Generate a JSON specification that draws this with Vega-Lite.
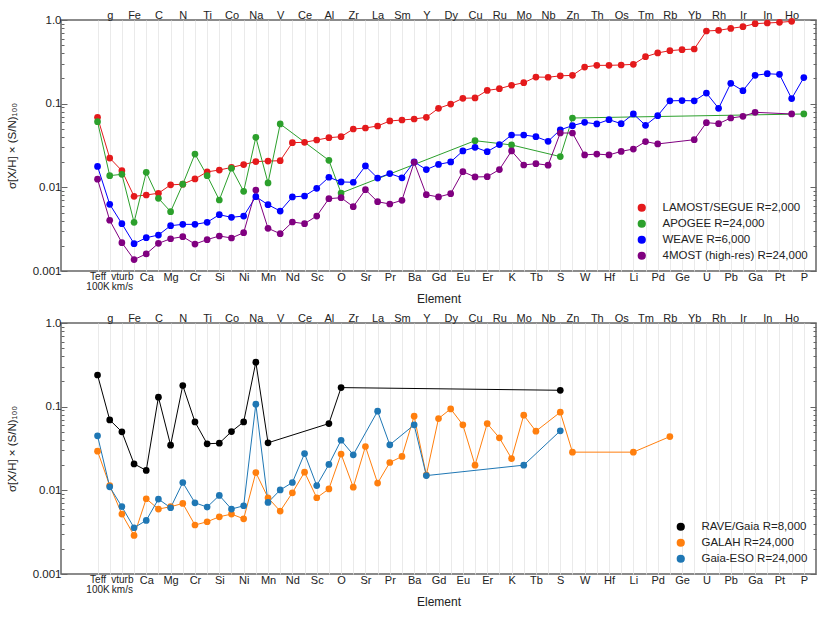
{
  "$schema": "https://vega.github.io/schema/vega-lite/v6.json",
  "padding": {"left": 5, "top": 8, "right": 5, "bottom": 5},
  "spacing": 6,
  "config": {
    "font": "Liberation Sans",
    "view": {"stroke": "#666", "strokeWidth": 1.5},
    "axis": {"labelFont": "Liberation Sans", "titleFont": "Liberation Sans", "labelColor": "#222", "titleColor": "#222", "titleFontWeight": "normal", "domain": false},
    "legend": {"labelFont": "Liberation Sans", "labelFontSize": 11.5, "labelColor": "#222", "symbolSize": 45, "symbolType": "circle", "rowPadding": 2, "labelOffset": 15, "padding": 0, "offset": 8, "orient": "bottom-right", "title": null}
  },
  "datasets": {
    "elements": [
      {"element": "Teff", "idx": 0}, {"element": "g", "idx": 1}, {"element": "vturb", "idx": 2}, {"element": "Fe", "idx": 3},
      {"element": "Ca", "idx": 4}, {"element": "C", "idx": 5}, {"element": "Mg", "idx": 6}, {"element": "N", "idx": 7},
      {"element": "Cr", "idx": 8}, {"element": "Ti", "idx": 9}, {"element": "Si", "idx": 10}, {"element": "Co", "idx": 11},
      {"element": "Ni", "idx": 12}, {"element": "Na", "idx": 13}, {"element": "Mn", "idx": 14}, {"element": "V", "idx": 15},
      {"element": "Nd", "idx": 16}, {"element": "Ce", "idx": 17}, {"element": "Sc", "idx": 18}, {"element": "Al", "idx": 19},
      {"element": "O", "idx": 20}, {"element": "Zr", "idx": 21}, {"element": "Sr", "idx": 22}, {"element": "La", "idx": 23},
      {"element": "Pr", "idx": 24}, {"element": "Sm", "idx": 25}, {"element": "Ba", "idx": 26}, {"element": "Y", "idx": 27},
      {"element": "Gd", "idx": 28}, {"element": "Dy", "idx": 29}, {"element": "Eu", "idx": 30}, {"element": "Cu", "idx": 31},
      {"element": "Er", "idx": 32}, {"element": "Ru", "idx": 33}, {"element": "K", "idx": 34}, {"element": "Mo", "idx": 35},
      {"element": "Tb", "idx": 36}, {"element": "Nb", "idx": 37}, {"element": "S", "idx": 38}, {"element": "Zn", "idx": 39},
      {"element": "W", "idx": 40}, {"element": "Th", "idx": 41}, {"element": "Hf", "idx": 42}, {"element": "Os", "idx": 43},
      {"element": "Li", "idx": 44}, {"element": "Tm", "idx": 45}, {"element": "Pd", "idx": 46}, {"element": "Rb", "idx": 47},
      {"element": "Ge", "idx": 48}, {"element": "Yb", "idx": 49}, {"element": "U", "idx": 50}, {"element": "Rh", "idx": 51},
      {"element": "Pb", "idx": 52}, {"element": "Ir", "idx": 53}, {"element": "Ga", "idx": 54}, {"element": "In", "idx": 55},
      {"element": "Pt", "idx": 56}, {"element": "Ho", "idx": 57}, {"element": "P", "idx": 58}
    ],
    "upper": [
      {"survey": "LAMOST/SEGUE R=2,000", "element": "Teff", "sigma": 0.0687},
      {"survey": "LAMOST/SEGUE R=2,000", "element": "g", "sigma": 0.0224},
      {"survey": "LAMOST/SEGUE R=2,000", "element": "vturb", "sigma": 0.0158},
      {"survey": "LAMOST/SEGUE R=2,000", "element": "Fe", "sigma": 0.0078},
      {"survey": "LAMOST/SEGUE R=2,000", "element": "Ca", "sigma": 0.0081},
      {"survey": "LAMOST/SEGUE R=2,000", "element": "C", "sigma": 0.0085},
      {"survey": "LAMOST/SEGUE R=2,000", "element": "Mg", "sigma": 0.0107},
      {"survey": "LAMOST/SEGUE R=2,000", "element": "N", "sigma": 0.0109},
      {"survey": "LAMOST/SEGUE R=2,000", "element": "Cr", "sigma": 0.0126},
      {"survey": "LAMOST/SEGUE R=2,000", "element": "Ti", "sigma": 0.0153},
      {"survey": "LAMOST/SEGUE R=2,000", "element": "Si", "sigma": 0.0161},
      {"survey": "LAMOST/SEGUE R=2,000", "element": "Co", "sigma": 0.0173},
      {"survey": "LAMOST/SEGUE R=2,000", "element": "Ni", "sigma": 0.0187},
      {"survey": "LAMOST/SEGUE R=2,000", "element": "Na", "sigma": 0.0203},
      {"survey": "LAMOST/SEGUE R=2,000", "element": "Mn", "sigma": 0.0206},
      {"survey": "LAMOST/SEGUE R=2,000", "element": "V", "sigma": 0.0208},
      {"survey": "LAMOST/SEGUE R=2,000", "element": "Nd", "sigma": 0.0342},
      {"survey": "LAMOST/SEGUE R=2,000", "element": "Ce", "sigma": 0.0345},
      {"survey": "LAMOST/SEGUE R=2,000", "element": "Sc", "sigma": 0.0368},
      {"survey": "LAMOST/SEGUE R=2,000", "element": "Al", "sigma": 0.0392},
      {"survey": "LAMOST/SEGUE R=2,000", "element": "O", "sigma": 0.0403},
      {"survey": "LAMOST/SEGUE R=2,000", "element": "Zr", "sigma": 0.0498},
      {"survey": "LAMOST/SEGUE R=2,000", "element": "Sr", "sigma": 0.0512},
      {"survey": "LAMOST/SEGUE R=2,000", "element": "La", "sigma": 0.0541},
      {"survey": "LAMOST/SEGUE R=2,000", "element": "Pr", "sigma": 0.0621},
      {"survey": "LAMOST/SEGUE R=2,000", "element": "Sm", "sigma": 0.0638},
      {"survey": "LAMOST/SEGUE R=2,000", "element": "Ba", "sigma": 0.0656},
      {"survey": "LAMOST/SEGUE R=2,000", "element": "Y", "sigma": 0.0687},
      {"survey": "LAMOST/SEGUE R=2,000", "element": "Gd", "sigma": 0.088},
      {"survey": "LAMOST/SEGUE R=2,000", "element": "Dy", "sigma": 0.099},
      {"survey": "LAMOST/SEGUE R=2,000", "element": "Eu", "sigma": 0.116},
      {"survey": "LAMOST/SEGUE R=2,000", "element": "Cu", "sigma": 0.117},
      {"survey": "LAMOST/SEGUE R=2,000", "element": "Er", "sigma": 0.144},
      {"survey": "LAMOST/SEGUE R=2,000", "element": "Ru", "sigma": 0.151},
      {"survey": "LAMOST/SEGUE R=2,000", "element": "K", "sigma": 0.166},
      {"survey": "LAMOST/SEGUE R=2,000", "element": "Mo", "sigma": 0.178},
      {"survey": "LAMOST/SEGUE R=2,000", "element": "Tb", "sigma": 0.208},
      {"survey": "LAMOST/SEGUE R=2,000", "element": "Nb", "sigma": 0.207},
      {"survey": "LAMOST/SEGUE R=2,000", "element": "S", "sigma": 0.215},
      {"survey": "LAMOST/SEGUE R=2,000", "element": "Zn", "sigma": 0.218},
      {"survey": "LAMOST/SEGUE R=2,000", "element": "W", "sigma": 0.274},
      {"survey": "LAMOST/SEGUE R=2,000", "element": "Th", "sigma": 0.287},
      {"survey": "LAMOST/SEGUE R=2,000", "element": "Hf", "sigma": 0.287},
      {"survey": "LAMOST/SEGUE R=2,000", "element": "Os", "sigma": 0.29},
      {"survey": "LAMOST/SEGUE R=2,000", "element": "Li", "sigma": 0.295},
      {"survey": "LAMOST/SEGUE R=2,000", "element": "Tm", "sigma": 0.364},
      {"survey": "LAMOST/SEGUE R=2,000", "element": "Pd", "sigma": 0.404},
      {"survey": "LAMOST/SEGUE R=2,000", "element": "Rb", "sigma": 0.43},
      {"survey": "LAMOST/SEGUE R=2,000", "element": "Ge", "sigma": 0.442},
      {"survey": "LAMOST/SEGUE R=2,000", "element": "Yb", "sigma": 0.45},
      {"survey": "LAMOST/SEGUE R=2,000", "element": "U", "sigma": 0.739},
      {"survey": "LAMOST/SEGUE R=2,000", "element": "Rh", "sigma": 0.752},
      {"survey": "LAMOST/SEGUE R=2,000", "element": "Pb", "sigma": 0.794},
      {"survey": "LAMOST/SEGUE R=2,000", "element": "Ir", "sigma": 0.832},
      {"survey": "LAMOST/SEGUE R=2,000", "element": "Ga", "sigma": 0.904},
      {"survey": "LAMOST/SEGUE R=2,000", "element": "In", "sigma": 0.921},
      {"survey": "LAMOST/SEGUE R=2,000", "element": "Pt", "sigma": 0.937},
      {"survey": "LAMOST/SEGUE R=2,000", "element": "Ho", "sigma": 0.964},
      {"survey": "APOGEE R=24,000", "element": "Teff", "sigma": 0.0609},
      {"survey": "APOGEE R=24,000", "element": "g", "sigma": 0.0138},
      {"survey": "APOGEE R=24,000", "element": "vturb", "sigma": 0.0143},
      {"survey": "APOGEE R=24,000", "element": "Fe", "sigma": 0.00382},
      {"survey": "APOGEE R=24,000", "element": "Ca", "sigma": 0.0151},
      {"survey": "APOGEE R=24,000", "element": "C", "sigma": 0.0074},
      {"survey": "APOGEE R=24,000", "element": "Mg", "sigma": 0.00512},
      {"survey": "APOGEE R=24,000", "element": "N", "sigma": 0.0109},
      {"survey": "APOGEE R=24,000", "element": "Cr", "sigma": 0.025},
      {"survey": "APOGEE R=24,000", "element": "Ti", "sigma": 0.0138},
      {"survey": "APOGEE R=24,000", "element": "Si", "sigma": 0.00706},
      {"survey": "APOGEE R=24,000", "element": "Co", "sigma": 0.0169},
      {"survey": "APOGEE R=24,000", "element": "Ni", "sigma": 0.00896},
      {"survey": "APOGEE R=24,000", "element": "Na", "sigma": 0.0396},
      {"survey": "APOGEE R=24,000", "element": "Mn", "sigma": 0.0113},
      {"survey": "APOGEE R=24,000", "element": "V", "sigma": 0.0572},
      {"survey": "APOGEE R=24,000", "element": "Al", "sigma": 0.021},
      {"survey": "APOGEE R=24,000", "element": "O", "sigma": 0.00855},
      {"survey": "APOGEE R=24,000", "element": "Cu", "sigma": 0.0361},
      {"survey": "APOGEE R=24,000", "element": "K", "sigma": 0.0321},
      {"survey": "APOGEE R=24,000", "element": "S", "sigma": 0.0233},
      {"survey": "APOGEE R=24,000", "element": "Zn", "sigma": 0.0674},
      {"survey": "APOGEE R=24,000", "element": "P", "sigma": 0.0753},
      {"survey": "WEAVE R=6,000", "element": "Teff", "sigma": 0.0178},
      {"survey": "WEAVE R=6,000", "element": "g", "sigma": 0.00627},
      {"survey": "WEAVE R=6,000", "element": "vturb", "sigma": 0.00368},
      {"survey": "WEAVE R=6,000", "element": "Fe", "sigma": 0.00212},
      {"survey": "WEAVE R=6,000", "element": "Ca", "sigma": 0.0025},
      {"survey": "WEAVE R=6,000", "element": "C", "sigma": 0.00269},
      {"survey": "WEAVE R=6,000", "element": "Mg", "sigma": 0.00348},
      {"survey": "WEAVE R=6,000", "element": "N", "sigma": 0.00361},
      {"survey": "WEAVE R=6,000", "element": "Cr", "sigma": 0.00361},
      {"survey": "WEAVE R=6,000", "element": "Ti", "sigma": 0.00382},
      {"survey": "WEAVE R=6,000", "element": "Si", "sigma": 0.00471},
      {"survey": "WEAVE R=6,000", "element": "Co", "sigma": 0.00438},
      {"survey": "WEAVE R=6,000", "element": "Ni", "sigma": 0.00454},
      {"survey": "WEAVE R=6,000", "element": "Na", "sigma": 0.00773},
      {"survey": "WEAVE R=6,000", "element": "Mn", "sigma": 0.0062},
      {"survey": "WEAVE R=6,000", "element": "V", "sigma": 0.00521},
      {"survey": "WEAVE R=6,000", "element": "Nd", "sigma": 0.00767},
      {"survey": "WEAVE R=6,000", "element": "Ce", "sigma": 0.00788},
      {"survey": "WEAVE R=6,000", "element": "Sc", "sigma": 0.00973},
      {"survey": "WEAVE R=6,000", "element": "Al", "sigma": 0.0132},
      {"survey": "WEAVE R=6,000", "element": "O", "sigma": 0.0116},
      {"survey": "WEAVE R=6,000", "element": "Zr", "sigma": 0.0115},
      {"survey": "WEAVE R=6,000", "element": "Sr", "sigma": 0.018},
      {"survey": "WEAVE R=6,000", "element": "La", "sigma": 0.0129},
      {"survey": "WEAVE R=6,000", "element": "Pr", "sigma": 0.0146},
      {"survey": "WEAVE R=6,000", "element": "Sm", "sigma": 0.013},
      {"survey": "WEAVE R=6,000", "element": "Ba", "sigma": 0.0201},
      {"survey": "WEAVE R=6,000", "element": "Y", "sigma": 0.0163},
      {"survey": "WEAVE R=6,000", "element": "Gd", "sigma": 0.0188},
      {"survey": "WEAVE R=6,000", "element": "Dy", "sigma": 0.0201},
      {"survey": "WEAVE R=6,000", "element": "Eu", "sigma": 0.0272},
      {"survey": "WEAVE R=6,000", "element": "Cu", "sigma": 0.0301},
      {"survey": "WEAVE R=6,000", "element": "Er", "sigma": 0.0267},
      {"survey": "WEAVE R=6,000", "element": "Ru", "sigma": 0.0324},
      {"survey": "WEAVE R=6,000", "element": "K", "sigma": 0.0422},
      {"survey": "WEAVE R=6,000", "element": "Mo", "sigma": 0.0422},
      {"survey": "WEAVE R=6,000", "element": "Tb", "sigma": 0.0403},
      {"survey": "WEAVE R=6,000", "element": "Nb", "sigma": 0.0355},
      {"survey": "WEAVE R=6,000", "element": "S", "sigma": 0.0487},
      {"survey": "WEAVE R=6,000", "element": "Zn", "sigma": 0.0546},
      {"survey": "WEAVE R=6,000", "element": "W", "sigma": 0.0598},
      {"survey": "WEAVE R=6,000", "element": "Th", "sigma": 0.0572},
      {"survey": "WEAVE R=6,000", "element": "Hf", "sigma": 0.0644},
      {"survey": "WEAVE R=6,000", "element": "Os", "sigma": 0.0577},
      {"survey": "WEAVE R=6,000", "element": "Li", "sigma": 0.0753},
      {"survey": "WEAVE R=6,000", "element": "Tm", "sigma": 0.0551},
      {"survey": "WEAVE R=6,000", "element": "Pd", "sigma": 0.0719},
      {"survey": "WEAVE R=6,000", "element": "Rb", "sigma": 0.108},
      {"survey": "WEAVE R=6,000", "element": "Ge", "sigma": 0.109},
      {"survey": "WEAVE R=6,000", "element": "Yb", "sigma": 0.108},
      {"survey": "WEAVE R=6,000", "element": "U", "sigma": 0.134},
      {"survey": "WEAVE R=6,000", "element": "Rh", "sigma": 0.088},
      {"survey": "WEAVE R=6,000", "element": "Pb", "sigma": 0.175},
      {"survey": "WEAVE R=6,000", "element": "Ir", "sigma": 0.143},
      {"survey": "WEAVE R=6,000", "element": "Ga", "sigma": 0.218},
      {"survey": "WEAVE R=6,000", "element": "In", "sigma": 0.228},
      {"survey": "WEAVE R=6,000", "element": "Pt", "sigma": 0.224},
      {"survey": "WEAVE R=6,000", "element": "Ho", "sigma": 0.115},
      {"survey": "WEAVE R=6,000", "element": "P", "sigma": 0.205},
      {"survey": "4MOST (high-res) R=24,000", "element": "Teff", "sigma": 0.0125},
      {"survey": "4MOST (high-res) R=24,000", "element": "g", "sigma": 0.00404},
      {"survey": "4MOST (high-res) R=24,000", "element": "vturb", "sigma": 0.00218},
      {"survey": "4MOST (high-res) R=24,000", "element": "Fe", "sigma": 0.00137},
      {"survey": "4MOST (high-res) R=24,000", "element": "Ca", "sigma": 0.0016},
      {"survey": "4MOST (high-res) R=24,000", "element": "C", "sigma": 0.00214},
      {"survey": "4MOST (high-res) R=24,000", "element": "Mg", "sigma": 0.00243},
      {"survey": "4MOST (high-res) R=24,000", "element": "N", "sigma": 0.00257},
      {"survey": "4MOST (high-res) R=24,000", "element": "Cr", "sigma": 0.0021},
      {"survey": "4MOST (high-res) R=24,000", "element": "Ti", "sigma": 0.00237},
      {"survey": "4MOST (high-res) R=24,000", "element": "Si", "sigma": 0.00262},
      {"survey": "4MOST (high-res) R=24,000", "element": "Co", "sigma": 0.00248},
      {"survey": "4MOST (high-res) R=24,000", "element": "Ni", "sigma": 0.00287},
      {"survey": "4MOST (high-res) R=24,000", "element": "Na", "sigma": 0.00929},
      {"survey": "4MOST (high-res) R=24,000", "element": "Mn", "sigma": 0.00324},
      {"survey": "4MOST (high-res) R=24,000", "element": "V", "sigma": 0.00279},
      {"survey": "4MOST (high-res) R=24,000", "element": "Nd", "sigma": 0.00385},
      {"survey": "4MOST (high-res) R=24,000", "element": "Ce", "sigma": 0.00368},
      {"survey": "4MOST (high-res) R=24,000", "element": "Sc", "sigma": 0.00454},
      {"survey": "4MOST (high-res) R=24,000", "element": "Al", "sigma": 0.00732},
      {"survey": "4MOST (high-res) R=24,000", "element": "O", "sigma": 0.00752},
      {"survey": "4MOST (high-res) R=24,000", "element": "Zr", "sigma": 0.00587},
      {"survey": "4MOST (high-res) R=24,000", "element": "Sr", "sigma": 0.00937},
      {"survey": "4MOST (high-res) R=24,000", "element": "La", "sigma": 0.00673},
      {"survey": "4MOST (high-res) R=24,000", "element": "Pr", "sigma": 0.00632},
      {"survey": "4MOST (high-res) R=24,000", "element": "Sm", "sigma": 0.007},
      {"survey": "4MOST (high-res) R=24,000", "element": "Ba", "sigma": 0.0199},
      {"survey": "4MOST (high-res) R=24,000", "element": "Y", "sigma": 0.00817},
      {"survey": "4MOST (high-res) R=24,000", "element": "Gd", "sigma": 0.00767},
      {"survey": "4MOST (high-res) R=24,000", "element": "Dy", "sigma": 0.00839},
      {"survey": "4MOST (high-res) R=24,000", "element": "Eu", "sigma": 0.0154},
      {"survey": "4MOST (high-res) R=24,000", "element": "Cu", "sigma": 0.0133},
      {"survey": "4MOST (high-res) R=24,000", "element": "Er", "sigma": 0.0134},
      {"survey": "4MOST (high-res) R=24,000", "element": "Ru", "sigma": 0.0163},
      {"survey": "4MOST (high-res) R=24,000", "element": "K", "sigma": 0.0272},
      {"survey": "4MOST (high-res) R=24,000", "element": "Mo", "sigma": 0.0185},
      {"survey": "4MOST (high-res) R=24,000", "element": "Tb", "sigma": 0.0192},
      {"survey": "4MOST (high-res) R=24,000", "element": "Nb", "sigma": 0.0184},
      {"survey": "4MOST (high-res) R=24,000", "element": "S", "sigma": 0.0446},
      {"survey": "4MOST (high-res) R=24,000", "element": "Zn", "sigma": 0.0446},
      {"survey": "4MOST (high-res) R=24,000", "element": "W", "sigma": 0.0244},
      {"survey": "4MOST (high-res) R=24,000", "element": "Th", "sigma": 0.025},
      {"survey": "4MOST (high-res) R=24,000", "element": "Hf", "sigma": 0.0244},
      {"survey": "4MOST (high-res) R=24,000", "element": "Os", "sigma": 0.0269},
      {"survey": "4MOST (high-res) R=24,000", "element": "Li", "sigma": 0.0287},
      {"survey": "4MOST (high-res) R=24,000", "element": "Tm", "sigma": 0.0352},
      {"survey": "4MOST (high-res) R=24,000", "element": "Pd", "sigma": 0.033},
      {"survey": "4MOST (high-res) R=24,000", "element": "Yb", "sigma": 0.0371},
      {"survey": "4MOST (high-res) R=24,000", "element": "U", "sigma": 0.0593},
      {"survey": "4MOST (high-res) R=24,000", "element": "Rh", "sigma": 0.0577},
      {"survey": "4MOST (high-res) R=24,000", "element": "Pb", "sigma": 0.0674},
      {"survey": "4MOST (high-res) R=24,000", "element": "Ir", "sigma": 0.0706},
      {"survey": "4MOST (high-res) R=24,000", "element": "Ga", "sigma": 0.0788},
      {"survey": "4MOST (high-res) R=24,000", "element": "Ho", "sigma": 0.0753}
    ],
    "lower": [
      {"survey": "RAVE/Gaia R=8,000", "element": "Teff", "sigma": 0.239},
      {"survey": "RAVE/Gaia R=8,000", "element": "g", "sigma": 0.0695},
      {"survey": "RAVE/Gaia R=8,000", "element": "vturb", "sigma": 0.05},
      {"survey": "RAVE/Gaia R=8,000", "element": "Fe", "sigma": 0.0207},
      {"survey": "RAVE/Gaia R=8,000", "element": "Ca", "sigma": 0.0173},
      {"survey": "RAVE/Gaia R=8,000", "element": "C", "sigma": 0.13},
      {"survey": "RAVE/Gaia R=8,000", "element": "Mg", "sigma": 0.0347},
      {"survey": "RAVE/Gaia R=8,000", "element": "N", "sigma": 0.179},
      {"survey": "RAVE/Gaia R=8,000", "element": "Cr", "sigma": 0.0658},
      {"survey": "RAVE/Gaia R=8,000", "element": "Ti", "sigma": 0.036},
      {"survey": "RAVE/Gaia R=8,000", "element": "Si", "sigma": 0.0366},
      {"survey": "RAVE/Gaia R=8,000", "element": "Co", "sigma": 0.0504},
      {"survey": "RAVE/Gaia R=8,000", "element": "Ni", "sigma": 0.0658},
      {"survey": "RAVE/Gaia R=8,000", "element": "Na", "sigma": 0.34},
      {"survey": "RAVE/Gaia R=8,000", "element": "Mn", "sigma": 0.037},
      {"survey": "RAVE/Gaia R=8,000", "element": "Al", "sigma": 0.0628},
      {"survey": "RAVE/Gaia R=8,000", "element": "O", "sigma": 0.169},
      {"survey": "RAVE/Gaia R=8,000", "element": "S", "sigma": 0.157},
      {"survey": "GALAH R=24,000", "element": "Teff", "sigma": 0.0294},
      {"survey": "GALAH R=24,000", "element": "g", "sigma": 0.0114},
      {"survey": "GALAH R=24,000", "element": "vturb", "sigma": 0.0052},
      {"survey": "GALAH R=24,000", "element": "Fe", "sigma": 0.00289},
      {"survey": "GALAH R=24,000", "element": "Ca", "sigma": 0.00793},
      {"survey": "GALAH R=24,000", "element": "C", "sigma": 0.00597},
      {"survey": "GALAH R=24,000", "element": "Mg", "sigma": 0.00637},
      {"survey": "GALAH R=24,000", "element": "N", "sigma": 0.00697},
      {"survey": "GALAH R=24,000", "element": "Cr", "sigma": 0.00385},
      {"survey": "GALAH R=24,000", "element": "Ti", "sigma": 0.00421},
      {"survey": "GALAH R=24,000", "element": "Si", "sigma": 0.00483},
      {"survey": "GALAH R=24,000", "element": "Co", "sigma": 0.0052},
      {"survey": "GALAH R=24,000", "element": "Ni", "sigma": 0.00457},
      {"survey": "GALAH R=24,000", "element": "Na", "sigma": 0.0163},
      {"survey": "GALAH R=24,000", "element": "Mn", "sigma": 0.00815},
      {"survey": "GALAH R=24,000", "element": "V", "sigma": 0.00565},
      {"survey": "GALAH R=24,000", "element": "Nd", "sigma": 0.00935},
      {"survey": "GALAH R=24,000", "element": "Ce", "sigma": 0.0165},
      {"survey": "GALAH R=24,000", "element": "Sc", "sigma": 0.00815},
      {"survey": "GALAH R=24,000", "element": "Al", "sigma": 0.0104},
      {"survey": "GALAH R=24,000", "element": "O", "sigma": 0.0271},
      {"survey": "GALAH R=24,000", "element": "Zr", "sigma": 0.0109},
      {"survey": "GALAH R=24,000", "element": "Sr", "sigma": 0.0334},
      {"survey": "GALAH R=24,000", "element": "La", "sigma": 0.0122},
      {"survey": "GALAH R=24,000", "element": "Pr", "sigma": 0.0215},
      {"survey": "GALAH R=24,000", "element": "Sm", "sigma": 0.0254},
      {"survey": "GALAH R=24,000", "element": "Ba", "sigma": 0.0769},
      {"survey": "GALAH R=24,000", "element": "Y", "sigma": 0.0152},
      {"survey": "GALAH R=24,000", "element": "Gd", "sigma": 0.0721},
      {"survey": "GALAH R=24,000", "element": "Dy", "sigma": 0.094},
      {"survey": "GALAH R=24,000", "element": "Eu", "sigma": 0.0606},
      {"survey": "GALAH R=24,000", "element": "Cu", "sigma": 0.02},
      {"survey": "GALAH R=24,000", "element": "Er", "sigma": 0.0628},
      {"survey": "GALAH R=24,000", "element": "Ru", "sigma": 0.0424},
      {"survey": "GALAH R=24,000", "element": "K", "sigma": 0.024},
      {"survey": "GALAH R=24,000", "element": "Mo", "sigma": 0.0791},
      {"survey": "GALAH R=24,000", "element": "Tb", "sigma": 0.0509},
      {"survey": "GALAH R=24,000", "element": "S", "sigma": 0.0859},
      {"survey": "GALAH R=24,000", "element": "Zn", "sigma": 0.0286},
      {"survey": "GALAH R=24,000", "element": "Li", "sigma": 0.0286},
      {"survey": "GALAH R=24,000", "element": "Rb", "sigma": 0.0439},
      {"survey": "Gaia-ESO R=24,000", "element": "Teff", "sigma": 0.0448},
      {"survey": "Gaia-ESO R=24,000", "element": "g", "sigma": 0.011},
      {"survey": "Gaia-ESO R=24,000", "element": "vturb", "sigma": 0.00637},
      {"survey": "Gaia-ESO R=24,000", "element": "Fe", "sigma": 0.00357},
      {"survey": "Gaia-ESO R=24,000", "element": "Ca", "sigma": 0.00437},
      {"survey": "Gaia-ESO R=24,000", "element": "C", "sigma": 0.00786},
      {"survey": "Gaia-ESO R=24,000", "element": "Mg", "sigma": 0.00619},
      {"survey": "Gaia-ESO R=24,000", "element": "N", "sigma": 0.0124},
      {"survey": "Gaia-ESO R=24,000", "element": "Cr", "sigma": 0.0071},
      {"survey": "Gaia-ESO R=24,000", "element": "Ti", "sigma": 0.00631},
      {"survey": "Gaia-ESO R=24,000", "element": "Si", "sigma": 0.00869},
      {"survey": "Gaia-ESO R=24,000", "element": "Co", "sigma": 0.00597},
      {"survey": "Gaia-ESO R=24,000", "element": "Ni", "sigma": 0.00654},
      {"survey": "Gaia-ESO R=24,000", "element": "Na", "sigma": 0.107},
      {"survey": "Gaia-ESO R=24,000", "element": "Mn", "sigma": 0.00716},
      {"survey": "Gaia-ESO R=24,000", "element": "V", "sigma": 0.0101},
      {"survey": "Gaia-ESO R=24,000", "element": "Nd", "sigma": 0.0124},
      {"survey": "Gaia-ESO R=24,000", "element": "Ce", "sigma": 0.0275},
      {"survey": "Gaia-ESO R=24,000", "element": "Sc", "sigma": 0.0114},
      {"survey": "Gaia-ESO R=24,000", "element": "Al", "sigma": 0.0204},
      {"survey": "Gaia-ESO R=24,000", "element": "O", "sigma": 0.0397},
      {"survey": "Gaia-ESO R=24,000", "element": "Zr", "sigma": 0.0266},
      {"survey": "Gaia-ESO R=24,000", "element": "La", "sigma": 0.0883},
      {"survey": "Gaia-ESO R=24,000", "element": "Pr", "sigma": 0.035},
      {"survey": "Gaia-ESO R=24,000", "element": "Ba", "sigma": 0.0606},
      {"survey": "Gaia-ESO R=24,000", "element": "Y", "sigma": 0.015},
      {"survey": "Gaia-ESO R=24,000", "element": "Mo", "sigma": 0.02},
      {"survey": "Gaia-ESO R=24,000", "element": "S", "sigma": 0.0514}
    ]
  },
  "resolve": {"scale": {"color": "independent"}, "legend": {"color": "independent"}},
  "vconcat": [
    {
      "width": 755, "height": 251,
      "data": {"name": "upper"},
      "transform": [{"lookup": "element", "from": {"data": {"name": "elements"}, "key": "element", "fields": ["idx"]}}],
      "layer": [
        {
          "mark": {"type": "line", "strokeWidth": 1},
          "encoding": {
            "x": {"field": "idx", "type": "quantitative", "scale": {"domain": [-3, 59], "nice": false, "zero": false},
              "axis": {"orient": "top", "values": [0,1,2,3,4,5,6,7,8,9,10,11,12,13,14,15,16,17,18,19,20,21,22,23,24,25,26,27,28,29,30,31,32,33,34,35,36,37,38,39,40,41,42,43,44,45,46,47,48,49,50,51,52,53,54,55,56,57,58],
                "labelExpr": "datum.value % 2 == 1 ? ['Teff','g','vturb','Fe','Ca','C','Mg','N','Cr','Ti','Si','Co','Ni','Na','Mn','V','Nd','Ce','Sc','Al','O','Zr','Sr','La','Pr','Sm','Ba','Y','Gd','Dy','Eu','Cu','Er','Ru','K','Mo','Tb','Nb','S','Zn','W','Th','Hf','Os','Li','Tm','Pd','Rb','Ge','Yb','U','Rh','Pb','Ir','Ga','In','Pt','Ho','P'][datum.value] : ''",
                "ticks": false, "grid": false, "labelFontSize": 11, "labelPadding": 0, "title": null, "labelOverlap": false, "labelFlush": false}},
            "y": {"field": "sigma", "type": "quantitative", "scale": {"type": "log", "domain": [0.001, 1], "nice": false},
              "axis": {"orient": "right", "values": [0.001,0.002,0.003,0.004,0.005,0.006,0.007,0.008,0.009,0.01,0.02,0.03,0.04,0.05,0.06,0.07,0.08,0.09,0.1,0.2,0.3,0.4,0.5,0.6,0.7,0.8,0.9,1],
                "labels": false, "grid": false, "title": null, "tickColor": "#666", "tickSize": {"condition": {"test": "indexof([0.001,0.01,0.1,1], datum.value) >= 0", "value": -6}, "value": -3}}},
            "color": {"field": "survey", "type": "nominal", "scale": {"domain": ["LAMOST/SEGUE R=2,000", "APOGEE R=24,000", "WEAVE R=6,000", "4MOST (high-res) R=24,000"], "range": ["#e41a1c", "#2ca02c", "#0000ff", "#800080"]}},
            "order": {"field": "idx", "type": "quantitative"}
          }
        },
        {
          "mark": {"type": "circle", "size": 45, "opacity": 1},
          "encoding": {
            "x": {"field": "idx", "type": "quantitative", "scale": {"domain": [-3, 59], "nice": false, "zero": false},
              "axis": {"orient": "bottom", "values": [0,1,2,3,4,5,6,7,8,9,10,11,12,13,14,15,16,17,18,19,20,21,22,23,24,25,26,27,28,29,30,31,32,33,34,35,36,37,38,39,40,41,42,43,44,45,46,47,48,49,50,51,52,53,54,55,56,57,58],
                "labelExpr": "datum.value == 0 ? ['Teff','100K'] : datum.value == 2 ? ['vturb','km/s'] : datum.value % 2 == 0 ? ['Teff','g','vturb','Fe','Ca','C','Mg','N','Cr','Ti','Si','Co','Ni','Na','Mn','V','Nd','Ce','Sc','Al','O','Zr','Sr','La','Pr','Sm','Ba','Y','Gd','Dy','Eu','Cu','Er','Ru','K','Mo','Tb','Nb','S','Zn','W','Th','Hf','Os','Li','Tm','Pd','Rb','Ge','Yb','U','Rh','Pb','Ir','Ga','In','Pt','Ho','P'][datum.value] : ''",
                "ticks": false, "grid": true, "gridColor": "#e4e4e4", "gridWidth": 0.8,
                "labelFontSize": {"condition": {"test": "datum.value <= 2", "value": 10}, "value": 11},
                "labelPadding": 0, "labelLineHeight": 10, "title": "Element", "titleFontSize": 12, "titlePadding": 2, "labelOverlap": false, "labelFlush": false}},
            "y": {"field": "sigma", "type": "quantitative", "scale": {"type": "log", "domain": [0.001, 1], "nice": false},
              "axis": {"orient": "left", "values": [0.001,0.002,0.003,0.004,0.005,0.006,0.007,0.008,0.009,0.01,0.02,0.03,0.04,0.05,0.06,0.07,0.08,0.09,0.1,0.2,0.3,0.4,0.5,0.6,0.7,0.8,0.9,1],
                "labelExpr": "datum.value == 1 ? '1.0' : datum.value == 0.1 ? '0.1' : datum.value == 0.01 ? '0.01' : datum.value == 0.001 ? '0.001' : ''",
                "labelOverlap": false, "labelFontSize": 11.5, "labelPadding": 6, "grid": false, "tickColor": "#666",
                "tickSize": {"condition": {"test": "indexof([0.001,0.01,0.1,1], datum.value) >= 0", "value": -6}, "value": -3},
                "title": "σ[X/H] × (S/N)₁₀₀", "titleFontSize": 11.5, "titlePadding": 15}},
            "color": {"field": "survey", "type": "nominal", "scale": {"domain": ["LAMOST/SEGUE R=2,000", "APOGEE R=24,000", "WEAVE R=6,000", "4MOST (high-res) R=24,000"], "range": ["#e41a1c", "#2ca02c", "#0000ff", "#800080"]}}
          }
        }
      ],
      "resolve": {"axis": {"x": "independent", "y": "independent"}}
    },
    {
      "width": 755, "height": 251,
      "data": {"name": "lower"},
      "transform": [{"lookup": "element", "from": {"data": {"name": "elements"}, "key": "element", "fields": ["idx"]}}],
      "layer": [
        {
          "mark": {"type": "line", "strokeWidth": 1},
          "encoding": {
            "x": {"field": "idx", "type": "quantitative", "scale": {"domain": [-3, 59], "nice": false, "zero": false},
              "axis": {"orient": "top", "values": [0,1,2,3,4,5,6,7,8,9,10,11,12,13,14,15,16,17,18,19,20,21,22,23,24,25,26,27,28,29,30,31,32,33,34,35,36,37,38,39,40,41,42,43,44,45,46,47,48,49,50,51,52,53,54,55,56,57,58],
                "labelExpr": "datum.value % 2 == 1 ? ['Teff','g','vturb','Fe','Ca','C','Mg','N','Cr','Ti','Si','Co','Ni','Na','Mn','V','Nd','Ce','Sc','Al','O','Zr','Sr','La','Pr','Sm','Ba','Y','Gd','Dy','Eu','Cu','Er','Ru','K','Mo','Tb','Nb','S','Zn','W','Th','Hf','Os','Li','Tm','Pd','Rb','Ge','Yb','U','Rh','Pb','Ir','Ga','In','Pt','Ho','P'][datum.value] : ''",
                "ticks": false, "grid": false, "labelFontSize": 11, "labelPadding": 0, "title": null, "labelOverlap": false, "labelFlush": false}},
            "y": {"field": "sigma", "type": "quantitative", "scale": {"type": "log", "domain": [0.001, 1], "nice": false},
              "axis": {"orient": "right", "values": [0.001,0.002,0.003,0.004,0.005,0.006,0.007,0.008,0.009,0.01,0.02,0.03,0.04,0.05,0.06,0.07,0.08,0.09,0.1,0.2,0.3,0.4,0.5,0.6,0.7,0.8,0.9,1],
                "labels": false, "grid": false, "title": null, "tickColor": "#666", "tickSize": {"condition": {"test": "indexof([0.001,0.01,0.1,1], datum.value) >= 0", "value": -6}, "value": -3}}},
            "color": {"field": "survey", "type": "nominal", "scale": {"domain": ["RAVE/Gaia R=8,000", "GALAH R=24,000", "Gaia-ESO R=24,000"], "range": ["#000000", "#ff7f0e", "#1f77b4"]}},
            "order": {"field": "idx", "type": "quantitative"}
          }
        },
        {
          "mark": {"type": "circle", "size": 45, "opacity": 1},
          "encoding": {
            "x": {"field": "idx", "type": "quantitative", "scale": {"domain": [-3, 59], "nice": false, "zero": false},
              "axis": {"orient": "bottom", "values": [0,1,2,3,4,5,6,7,8,9,10,11,12,13,14,15,16,17,18,19,20,21,22,23,24,25,26,27,28,29,30,31,32,33,34,35,36,37,38,39,40,41,42,43,44,45,46,47,48,49,50,51,52,53,54,55,56,57,58],
                "labelExpr": "datum.value == 0 ? ['Teff','100K'] : datum.value == 2 ? ['vturb','km/s'] : datum.value % 2 == 0 ? ['Teff','g','vturb','Fe','Ca','C','Mg','N','Cr','Ti','Si','Co','Ni','Na','Mn','V','Nd','Ce','Sc','Al','O','Zr','Sr','La','Pr','Sm','Ba','Y','Gd','Dy','Eu','Cu','Er','Ru','K','Mo','Tb','Nb','S','Zn','W','Th','Hf','Os','Li','Tm','Pd','Rb','Ge','Yb','U','Rh','Pb','Ir','Ga','In','Pt','Ho','P'][datum.value] : ''",
                "ticks": false, "grid": true, "gridColor": "#e4e4e4", "gridWidth": 0.8,
                "labelFontSize": {"condition": {"test": "datum.value <= 2", "value": 10}, "value": 11},
                "labelPadding": 0, "labelLineHeight": 10, "title": "Element", "titleFontSize": 12, "titlePadding": 2, "labelOverlap": false, "labelFlush": false}},
            "y": {"field": "sigma", "type": "quantitative", "scale": {"type": "log", "domain": [0.001, 1], "nice": false},
              "axis": {"orient": "left", "values": [0.001,0.002,0.003,0.004,0.005,0.006,0.007,0.008,0.009,0.01,0.02,0.03,0.04,0.05,0.06,0.07,0.08,0.09,0.1,0.2,0.3,0.4,0.5,0.6,0.7,0.8,0.9,1],
                "labelExpr": "datum.value == 1 ? '1.0' : datum.value == 0.1 ? '0.1' : datum.value == 0.01 ? '0.01' : datum.value == 0.001 ? '0.001' : ''",
                "labelOverlap": false, "labelFontSize": 11.5, "labelPadding": 6, "grid": false, "tickColor": "#666",
                "tickSize": {"condition": {"test": "indexof([0.001,0.01,0.1,1], datum.value) >= 0", "value": -6}, "value": -3},
                "title": "σ[X/H] × (S/N)₁₀₀", "titleFontSize": 11.5, "titlePadding": 15}},
            "color": {"field": "survey", "type": "nominal", "scale": {"domain": ["RAVE/Gaia R=8,000", "GALAH R=24,000", "Gaia-ESO R=24,000"], "range": ["#000000", "#ff7f0e", "#1f77b4"]}}
          }
        }
      ],
      "resolve": {"axis": {"x": "independent", "y": "independent"}}
    }
  ]
}
